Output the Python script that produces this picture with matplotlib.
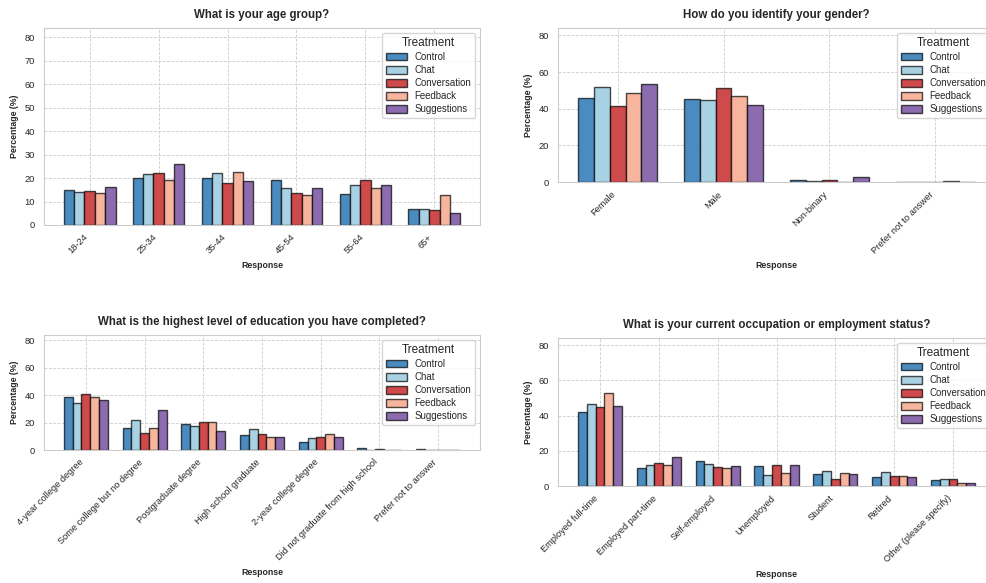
import numpy as np
import matplotlib
matplotlib.use("Agg")
import matplotlib.pyplot as plt
import seaborn as sns

# ── Data (percentages per treatment) ─────────────────────────────────────────
TREATMENTS = ["Control", "Chat", "Conversation", "Feedback", "Suggestions"]
COLORS = ["#4a8cc0", "#a8d1e3", "#cf4a4b", "#f6b59c", "#8c6bae"]

age_cats = ["18-24", "25-34", "35-44", "45-54", "55-64", "65+"]
age_control = [14.9, 20.0, 20.0, 19.1, 13.3, 6.7]
age_chat = [14.0, 21.6, 22.1, 15.6, 17.0, 6.7]
age_conversation = [14.3, 22.1, 17.9, 13.6, 19.3, 6.4]
age_feedback = [13.5, 19.4, 22.4, 12.6, 15.6, 12.6]
age_suggestions = [16.2, 26.0, 18.6, 15.6, 17.0, 5.1]

gender_cats = ["Female", "Male", "Non-binary", "Prefer not to answer"]
gender_control = [45.8, 45.1, 1.3, 0.0]
gender_chat = [51.8, 44.5, 0.4, 0.0]
gender_conversation = [41.5, 51.3, 1.3, 0.0]
gender_feedback = [48.5, 46.9, 0.0, 0.5]
gender_suggestions = [53.3, 42.2, 2.9, 0.0]

edu_cats = ["4-year college degree", "Some college but no degree",
            "Postgraduate degree", "High school graduate",
            "2-year college degree", "Did not graduate from high school",
            "Prefer not to answer"]
edu_control = [38.5, 16.4, 18.7, 11.3, 6.1, 1.7, 0.5]
edu_chat = [34.1, 21.6, 17.2, 15.7, 9.1, 0.0, 0.0]
edu_conversation = [40.7, 12.3, 20.1, 11.8, 9.6, 0.5, 0.0]
edu_feedback = [38.8, 16.0, 20.1, 9.8, 12.0, 0.0, 0.0]
edu_suggestions = [36.3, 29.0, 14.2, 9.8, 9.8, 0.0, 0.0]

occ_cats = ["Employed full-time", "Employed part-time", "Self-employed",
            "Unemployed", "Student", "Retired", "Other (please specify)"]
occ_control = [42.2, 10.0, 14.1, 11.5, 6.6, 4.9, 3.4]
occ_chat = [46.5, 11.7, 12.6, 6.0, 8.3, 7.7, 4.1]
occ_conversation = [44.6, 13.0, 10.9, 12.2, 4.1, 5.6, 4.1]
occ_feedback = [52.7, 12.0, 10.5, 7.2, 7.2, 5.6, 1.7]
occ_suggestions = [45.4, 16.6, 11.1, 11.7, 7.0, 4.9, 1.5]

PANELS = [
    ("What is your age group?", age_cats,
     [age_control, age_chat, age_conversation, age_feedback, age_suggestions], 10),
    ("How do you identify your gender?", gender_cats,
     [gender_control, gender_chat, gender_conversation, gender_feedback, gender_suggestions], 20),
    ("What is the highest level of education you have completed?", edu_cats,
     [edu_control, edu_chat, edu_conversation, edu_feedback, edu_suggestions], 20),
    ("What is your current occupation or employment status?", occ_cats,
     [occ_control, occ_chat, occ_conversation, occ_feedback, occ_suggestions], 20),
]

# axes boxes in pixels: left, right, top, bottom
W, H = 987, 583
BOXES = [(44, 480, 28, 225), (558, 995, 28, 182),
         (44, 480, 335, 450), (558, 995, 338, 486)]

sns.set_style("whitegrid")
plt.rcParams["font.family"] = ["Liberation Sans", "DejaVu Sans"]

fig = plt.figure(figsize=(W / 100, H / 100), dpi=100)
width = 0.15

for (title, cats, series, step), (l, r, t, b) in zip(PANELS, BOXES):
    ax = fig.add_axes([l / W, 1 - b / H, (r - l) / W, (b - t) / H])
    x = np.arange(len(cats))
    for k, (vals, name, col) in enumerate(zip(series, TREATMENTS, COLORS)):
        ax.bar(x + (k - 2) * width, vals, width, label=name, color=col,
               edgecolor=(0, 0, 0, 0.7), linewidth=1.0)
    ax.set_ylim(0, 84)
    ax.set_yticks(np.arange(0, 81, step))
    ax.set_xticks(x)
    ax.set_xticklabels(cats, rotation=45, ha="right", fontsize=6.7)
    ax.tick_params(axis="y", labelsize=6.7, pad=3)
    ax.tick_params(axis="x", pad=2)
    ax.grid(True, linestyle=(0, (3, 1.5)), linewidth=0.7, color="#d2d2d2")
    ax.set_axisbelow(True)
    ax.set_title(title, fontsize=8.3, fontweight="bold", pad=7)
    ax.set_xlabel("Response", fontsize=6.3, fontweight="bold", labelpad=4)
    ax.set_ylabel("Percentage (%)", fontsize=6.3, fontweight="bold", labelpad=4)
    ax.legend(title="Treatment", loc="upper right", fontsize=6.9,
              title_fontsize=8.5, framealpha=0.8, labelspacing=0.33,
              handlelength=2.2, handleheight=0.9)

fig.savefig("out.png", dpi=100)
